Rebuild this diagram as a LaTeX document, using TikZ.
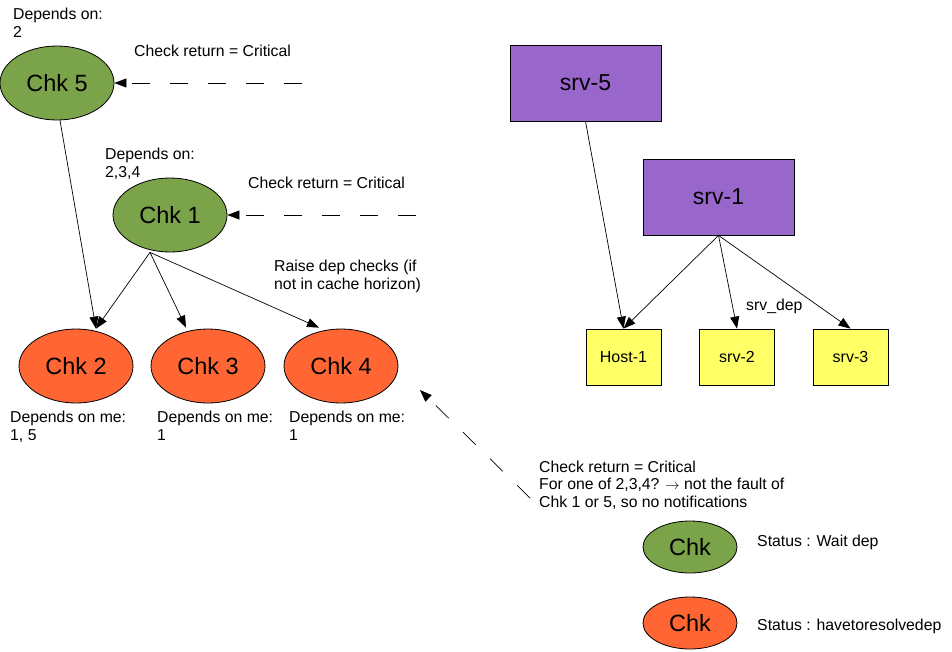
\documentclass[tikz,border=0pt]{standalone}
\usepackage{fontspec}
\setmainfont{Liberation Sans}
\usetikzlibrary{shapes.geometric, arrows.meta, positioning}

\definecolor{waitgreen}{HTML}{7BA34A}
\definecolor{resolvered}{HTML}{FF6633}
\definecolor{srvpurple}{HTML}{9966CC}
\definecolor{hostyellow}{HTML}{FFFF66}

\begin{document}
\begin{tikzpicture}[
    x=1pt, y=-1pt,
    chk/.style={ellipse, draw, line width=0.8pt, minimum width=114pt, minimum height=74pt, inner sep=0pt, font=\fontsize{23.5}{27}\selectfont},
    legend/.style={chk, minimum width=94pt, minimum height=52pt},
    srv/.style={rectangle, draw, line width=0.8pt, fill=srvpurple, minimum width=151pt, minimum height=76pt, font=\fontsize{23}{27}\selectfont},
    host/.style={rectangle, draw, line width=0.8pt, fill=hostyellow, minimum width=75pt, minimum height=56pt, font=\fontsize{16}{17}\selectfont},
    note/.style={anchor=base west, align=left, inner sep=0pt, font=\fontsize{15.8}{17.5}\selectfont},
    arrow/.style={-{Triangle[length=12pt, width=9pt]}, line width=0.7pt},
    dasharrow/.style={arrow, dash pattern=on 18pt off 20pt}
]
\useasboundingbox (0,0) rectangle (952,651);

% Checks
\node[chk, fill=waitgreen] (chk5) at (57,83) {Chk 5};
\node[chk, fill=waitgreen] (chk1) at (170,215) {Chk 1};
\node[chk, fill=resolvered] (chk2) at (76,366) {Chk 2};
\node[chk, fill=resolvered] (chk3) at (208,366) {Chk 3};
\node[chk, fill=resolvered] (chk4) at (341,366) {Chk 4};

% Notes on checks (base = last line)
\node[note] (dep5) at (13,37) {Depends on:\\2};
\node[note] (dep1) at (105,177) {Depends on:\\2,3,4};
\node[note] (me2) at (10,440) {Depends on me:\\1, 5};
\node[note] (me3) at (157,440) {Depends on me:\\1};
\node[note] (me4) at (289,440) {Depends on me:\\1};
\node[note] (crit5) at (134,56) {Check return = Critical};
\node[note] (crit1) at (248,188) {Check return = Critical};
\node[note] (raise) at (274,289) {Raise dep checks (if\\not in cache horizon)};
\node[note] (fault) at (539,507) {Check return = Critical\\For one of 2,3,4? \(\rightarrow\) not the fault of\\Chk 1 or 5, so no notifications};

% Services
\node[srv] (srv5) at (585.5,83) {srv-5};
\node[srv] (srv1) at (718.5,197) {srv-1};
\node[host] (host1) at (623.5,357) {Host-1};
\node[host] (srv2) at (737,357) {srv-2};
\node[host] (srv3) at (850.5,357) {srv-3};
\node[note] (srvdep) at (746,310) {srv\_dep};

% Legend
\node[legend, fill=waitgreen] (leg1) at (690,547) {Chk};
\node[legend, fill=resolvered] (leg2) at (690,623) {Chk};
\node[note] (stat1) at (757,546) {Status : Wait dep};
\node[note] (stat2) at (757,630) {Status : havetoresolvedep};

% Incoming results
\coordinate (in5) at (302,83);
\coordinate (in1) at (416,215);
\coordinate (in4) at (530,498);
\coordinate (tip4) at (420,390);
\draw[dasharrow] (in5) -- (chk5);
\draw[dasharrow] (in1) -- (chk1);
\draw[dasharrow] (in4) -- (tip4);

% Dependencies
\draw[arrow] ([xshift=3pt]chk5.south) -- ([xshift=20pt]chk2.north);
\draw[arrow] ([xshift=-20pt]chk1.south) -- ([xshift=20pt]chk2.north);
\draw[arrow] ([xshift=-20pt]chk1.south) -- ([xshift=-22pt,yshift=1pt]chk3.north);
\draw[arrow] ([xshift=-20pt]chk1.south) -- ([xshift=-22pt,yshift=1pt]chk4.north);
\draw[arrow] (srv5.south) -- (host1.north);
\draw[arrow] (srv1.south) -- (host1.north);
\draw[arrow] (srv1.south) -- (srv2.north);
\draw[arrow] (srv1.south) -- (srv3.north);

\end{tikzpicture}
\end{document}
